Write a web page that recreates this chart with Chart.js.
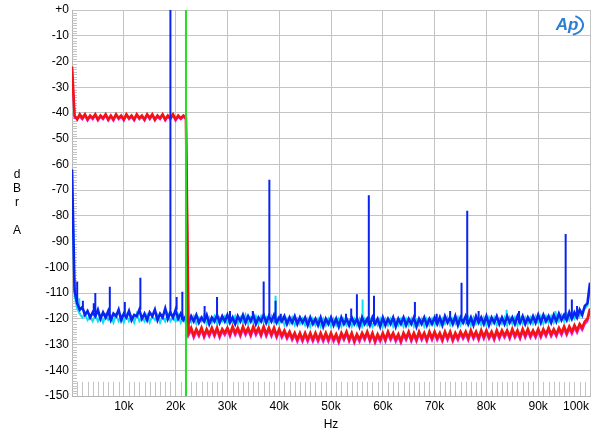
<!DOCTYPE html>
<html lang="en">
<head>
  <meta charset="UTF-8">
  <title>Spectrum dBr A vs Hz</title>
  <script src="https://cdn.jsdelivr.net/npm/chart.js"></script>
  <style>
    body { margin: 0; background: #fff; }
    canvas { display: block; }
  </style>
</head>
<body>
  <canvas id="spectrum" width="600" height="443"></canvas>
  <script>
    // frequency bins in kHz (rows of 10k)
    const binK = [
      0, 0.5, 1, 1.5, 2, 2.5, 3, 3.5, 4, 4.5, 5, 5.5, 6, 6.5, 7, 7.5, 8, 8.5, 9, 9.5,
      10, 10.5, 11, 11.5, 12, 12.5, 13, 13.5, 14, 14.5, 15, 15.5, 16, 16.5, 17, 17.5, 18, 18.5, 19, 19.5,
      20, 20.5, 21, 21.5, 22, 22.5, 23, 23.5, 24, 24.5, 25, 25.5, 26, 26.5, 27, 27.5, 28, 28.5, 29, 29.5,
      30, 30.5, 31, 31.5, 32, 32.5, 33, 33.5, 34, 34.5, 35, 35.5, 36, 36.5, 37, 37.5, 38, 38.5, 39, 39.5,
      40, 40.5, 41, 41.5, 42, 42.5, 43, 43.5, 44, 44.5, 45, 45.5, 46, 46.5, 47, 47.5, 48, 48.5, 49, 49.5,
      50, 50.5, 51, 51.5, 52, 52.5, 53, 53.5, 54, 54.5, 55, 55.5, 56, 56.5, 57, 57.5, 58, 58.5, 59, 59.5,
      60, 60.5, 61, 61.5, 62, 62.5, 63, 63.5, 64, 64.5, 65, 65.5, 66, 66.5, 67, 67.5, 68, 68.5, 69, 69.5,
      70, 70.5, 71, 71.5, 72, 72.5, 73, 73.5, 74, 74.5, 75, 75.5, 76, 76.5, 77, 77.5, 78, 78.5, 79, 79.5,
      80, 80.5, 81, 81.5, 82, 82.5, 83, 83.5, 84, 84.5, 85, 85.5, 86, 86.5, 87, 87.5, 88, 88.5, 89, 89.5,
      90, 90.5, 91, 91.5, 92, 92.5, 93, 93.5, 94, 94.5, 95, 95.5, 96, 96.5, 97, 97.5, 98, 98.5, 99, 99.5,
      100
    ];

    const blueDb = [
      -62, -109, -114, -116.5, -115.5, -118.5, -117, -119.5, -117.5, -119, -116.5, -120, -117.5, -119.5, -117, -120.5, -118, -119, -116.5, -120.5,
      -118, -119.5, -117, -120.5, -118.5, -119, -116.5, -120, -118, -120.5, -117.5, -119, -116.5, -120.5, -118, -119.5, -116, -120, -117.5, -119.5,
      -116.5, -120, -118, -120.5, -119, -121.5, -119, -121, -118.5, -121.5, -119.5, -121, -118.5, -122, -119.5, -121, -118.5, -121.5, -119, -121,
      -118.5, -121.5, -119.5, -122, -119, -121, -118.5, -121.5, -119, -121, -118.5, -122, -119.5, -121, -118.5, -121.5, -119, -121, -118.5, -121.5,
      -119.5, -121, -119, -122, -119.5, -121.5, -119, -122, -119.5, -121.5, -119.5, -122.5, -119.5, -122, -120, -122.5, -119.5, -123, -120, -122,
      -119.5, -122.5, -120, -123, -119.5, -122, -120, -122.5, -119.5, -122, -120, -123, -119.5, -122, -120, -122.5, -119.5, -122, -120, -123,
      -119.5, -122.5, -120, -122, -119.5, -123, -120, -122, -119.5, -122.5, -120, -122, -119.5, -123, -120, -122, -119.5, -122.5, -120, -122,
      -119.5, -122, -119.5, -122.5, -119, -121.5, -119.5, -122, -119, -122.5, -119.5, -121.5, -119, -122, -119.5, -122.5, -119, -121.5, -119.5, -122,
      -119, -122.5, -119.5, -121.5, -119, -122, -119.5, -122, -119, -121.5, -119.5, -122, -119, -121.5, -119, -122, -119.5, -121.5, -119, -121.5,
      -118.5, -121.5, -118.5, -121, -119, -121.5, -118.5, -121, -118, -120.5, -118.5, -120.5, -117.5, -120, -117.5, -119.5, -116.5, -118.5, -115, -114,
      -106
    ];

    const cyanDb = [
      -64, -111, -116, -118, -119.5, -118, -120.5, -119, -121, -118.5, -121, -119, -121.5, -118.5, -120.5, -119, -121.5, -118.5, -121, -119,
      -121.5, -118.5, -121, -119, -121.5, -118, -121, -119.5, -121, -118.5, -121.5, -119, -120.5, -118.5, -121.5, -119, -121, -118, -121, -119.5,
      -121, -118.5, -121.5, -119, -122, -119.5, -121.5, -119, -122, -119.5, -121, -118.5, -122, -119.5, -121.5, -119, -122, -119.5, -121, -119,
      -122, -119.5, -121.5, -119, -122, -119.5, -121.5, -118.5, -122, -119.5, -121.5, -119, -122, -119, -121.5, -119.5, -122, -119, -121.5, -119.5,
      -122, -119.5, -122.5, -120, -122, -119.5, -122.5, -120, -122, -120, -122.5, -120, -123, -120, -122.5, -120, -123, -120, -122.5, -120,
      -123, -120, -122.5, -120, -123, -120, -122.5, -120.5, -123, -120, -122.5, -120, -123, -120, -122.5, -120, -123, -120.5, -122.5, -120,
      -123, -120, -122.5, -120, -123, -120.5, -122.5, -120, -123, -120, -122.5, -120, -123, -120.5, -122.5, -120, -123, -120, -122.5, -120,
      -122.5, -119.5, -122.5, -120, -122, -119.5, -122.5, -120, -122, -119.5, -122.5, -120, -122, -119.5, -122.5, -119.5, -122, -120, -122.5, -119.5,
      -122.5, -119.5, -122, -119.5, -122.5, -120, -122, -119.5, -122.5, -119.5, -122, -119.5, -122.5, -119.5, -122, -119.5, -122, -119.5, -122, -119,
      -121.5, -119, -122, -119, -121.5, -119, -121.5, -118.5, -121, -118.5, -121, -118, -120.5, -118, -120, -117.5, -119, -117, -116, -115,
      -108
    ];

    const redDb = [
      -22, -41, -42.5, -40.5, -42, -40.5, -42.5, -41, -42, -40.5, -42.5, -41, -42, -40.5, -42.5, -41, -42.5, -40.5, -42, -41,
      -42.5, -40.5, -42, -41, -42.5, -40.5, -42, -41, -42.5, -40.5, -42, -40.5, -42.5, -41, -42, -40.5, -42.5, -41, -42, -40.5,
      -42.5, -41, -42, -41, -42, -125.5, -123.5, -126.5, -124, -126, -123.5, -126.5, -124, -126, -123.5, -126, -123.5, -126.5, -124, -125.5,
      -123.5, -126, -123, -125.5, -123.5, -126, -123, -125.5, -123.5, -126, -123, -125.5, -123.5, -126, -123, -126, -123.5, -126, -123.5, -126.5,
      -124, -126.5, -124.5, -127, -125, -127.5, -125.5, -128, -125.5, -128, -125.5, -128, -125.5, -128, -125.5, -128, -125.5, -128, -125.5, -128,
      -125.5, -128, -126, -128.5, -125.5, -127.5, -125, -128, -125.5, -128.5, -126, -128, -125.5, -127.5, -125, -128, -125.5, -128.5, -126, -128,
      -125.5, -128, -125, -127.5, -125.5, -128, -126, -128.5, -125.5, -127.5, -125, -128, -125.5, -128, -125, -127.5, -125.5, -128, -125, -127.5,
      -125, -127.5, -125.5, -128, -125, -127.5, -125, -128, -125.5, -127.5, -125, -127, -125, -127.5, -124.5, -127, -125, -127.5, -124.5, -127,
      -124.5, -127, -125, -127.5, -124.5, -127, -124.5, -126.5, -124.5, -127, -124, -126.5, -124.5, -127, -124, -126.5, -124, -126.5, -124.5, -126.5,
      -124, -126.5, -124, -126, -123.5, -126, -124, -126, -123.5, -125.5, -123, -125.5, -123, -125, -122.5, -124.5, -122, -123.5, -121, -120,
      -116
    ];

    const magentaDb = [
      -23, -42, -42, -41.5, -42.5, -41, -43, -41.5, -42.5, -41, -43, -41.5, -42.5, -41, -43, -41.5, -43, -41, -42.5, -41.5,
      -43, -41, -42.5, -41.5, -43, -41, -42.5, -41.5, -43, -41, -42.5, -41, -43, -41.5, -42.5, -41, -43, -41.5, -42.5, -41,
      -43, -41.5, -42.5, -41.5, -42.5, -126.5, -124.5, -127.5, -125, -127, -124.5, -127.5, -125, -127, -124.5, -127, -124.5, -127.5, -125, -126.5,
      -124.5, -127, -124, -126.5, -124.5, -127, -124, -126.5, -124.5, -127, -124, -126.5, -124.5, -127, -124, -127, -124.5, -127, -124.5, -127.5,
      -125, -127.5, -125.5, -128, -126, -128.5, -126.5, -129, -126.5, -129, -126.5, -129, -126.5, -129, -126.5, -129, -126.5, -129, -126.5, -129,
      -126.5, -129, -127, -129.5, -126.5, -128.5, -126, -129, -126.5, -129.5, -127, -129, -126.5, -128.5, -126, -129, -126.5, -129.5, -127, -129,
      -126.5, -129, -126, -128.5, -126.5, -129, -127, -129.5, -126.5, -128.5, -126, -129, -126.5, -129, -126, -128.5, -126.5, -129, -126, -128.5,
      -126, -128.5, -126.5, -129, -126, -128.5, -126, -129, -126.5, -128.5, -126, -128, -126, -128.5, -125.5, -128, -126, -128.5, -125.5, -128,
      -125.5, -128, -126, -128.5, -125.5, -128, -125.5, -127.5, -125.5, -128, -125, -127.5, -125.5, -128, -125, -127.5, -125, -127.5, -125.5, -127.5,
      -125, -127.5, -125, -127, -124.5, -127, -125, -127, -124.5, -126.5, -124, -126.5, -124, -126, -123.5, -125.5, -123, -124.5, -122, -121,
      -117
    ];

    // discrete tones (kHz, peak dBr)
    const blueSpikeK  = [1.0, 2.1, 4.2, 4.5, 7.3, 10.2, 13.2, 19.0, 20.2, 21.3, 25.6, 28.0, 30.5, 34.9, 37.0, 38.1, 39.3, 40.3, 52.9, 53.9, 55.0, 57.3, 58.3, 66.2, 70.4, 73.0, 75.2, 76.3, 78.5, 86.3, 95.3, 96.5, 97.5];
    const blueSpikeDb = [-105.5, -113, -114, -110, -107.5, -113.5, -104, 0, -111.5, -109.5, -115, -111.5, -117, -117, -105.5, -66, -113, -118, -118, -116, -110.5, -72, -111, -113.5, -118, -117, -106, -78, -117, -117, -87, -112.5, -115];
    const cyanSpikeK  = [1.4, 39.3, 56.1, 83.9, 93.3];
    const cyanSpikeDb = [-112, -111, -112.5, -116.5, -117];

    const markerK = 22; // green marker

    const xTickValues = [10, 20, 30, 40, 50, 60, 70, 80, 90, 100];
    const xTickLabels = ['10k', '20k', '30k', '40k', '50k', '60k', '70k', '80k', '90k', '100k'];
    const yTickValues = [0, -10, -20, -30, -40, -50, -60, -70, -80, -90, -100, -110, -120, -130, -140, -150];
    const yTickLabels = ['+0', '-10', '-20', '-30', '-40', '-50', '-60', '-70', '-80', '-90', '-100', '-110', '-120', '-130', '-140', '-150'];

    const FONT = '"Liberation Sans", Arial, sans-serif';

    function trace(values) {
      return binK.map((k, i) => ({ x: k, y: values[i] }));
    }

    function nearestBin(k) {
      let best = 0;
      binK.forEach((b, i) => { if (Math.abs(b - k) < Math.abs(binK[best] - k)) best = i; });
      return best;
    }

    function spikes(ks, dbs, floor) {
      const out = [];
      ks.forEach((k, i) => {
        out.push({ x: k, y: floor[nearestBin(k)] });
        out.push({ x: k, y: dbs[i] });
        out.push({ x: k, y: null });
      });
      return out;
    }

    const decor = {
      id: 'decor',
      beforeDatasetsDraw(chart) {
        const { ctx, chartArea: a, scales: { x, y } } = chart;
        ctx.save();
        ctx.strokeStyle = '#c4c4c4';
        ctx.lineWidth = 1;
        ctx.beginPath();
        for (let v = -149; v < 0; v++) {
          if (v % 10 === 0) continue;
          const py = Math.round(y.getPixelForValue(v)) + 0.5;
          ctx.moveTo(a.left, py);
          ctx.lineTo(a.left + 5, py);
        }
        for (let k = 1; k < 100; k++) {
          if (k % 10 === 0) continue;
          const px = Math.round(x.getPixelForValue(k)) + 0.5;
          ctx.moveTo(px, y.getPixelForValue(-150));
          ctx.lineTo(px, y.getPixelForValue(-144.5));
        }
        ctx.stroke();
        ctx.restore();
      },
      afterDraw(chart) {
        const { ctx, chartArea: a, scales: { x, y } } = chart;
        ctx.save();
        ctx.fillStyle = '#000';
        ctx.font = '12px ' + FONT;
        ctx.textAlign = 'right';
        ctx.textBaseline = 'middle';
        yTickValues.forEach((v, i) => ctx.fillText(yTickLabels[i], a.left - 3, y.getPixelForValue(v)));

        xTickValues.forEach((v, i) => {
          const px = x.getPixelForValue(v);
          const w = ctx.measureText(xTickLabels[i]).width;
          if (px + w / 2 > a.right) {
            ctx.textAlign = 'right';
            ctx.fillText(xTickLabels[i], a.right - 1, a.bottom + 11);
          } else {
            ctx.textAlign = 'center';
            ctx.fillText(xTickLabels[i], px, a.bottom + 11);
          }
        });

        ctx.textAlign = 'center';
        ctx.fillText('Hz', (a.left + a.right) / 2, a.bottom + 29);

        // vertical unit label
        ctx.fillText('d', 17, 175);
        ctx.fillText('B', 17, 189);
        ctx.fillText('r', 17, 203);
        ctx.fillText('A', 17, 231);

        // AP logo
        ctx.fillStyle = '#2a7fd4';
        ctx.strokeStyle = '#2a7fd4';
        ctx.font = 'italic bold 17px ' + FONT;
        ctx.fillText('Ap', 567, 25);
        ctx.lineWidth = 2;
        ctx.beginPath();
        ctx.ellipse(569, 25, 14, 10, 0, -1.1, 1.3);
        ctx.stroke();
        ctx.restore();
      }
    };

    new Chart(document.getElementById('spectrum'), {
      type: 'line',
      data: {
        datasets: [
          { label: 'marker', data: [{ x: markerK, y: 0 }, { x: markerK, y: -150 }], borderColor: '#22dd22', borderWidth: 2 },
          { label: 'blue tones', data: spikes(blueSpikeK, blueSpikeDb, blueDb), borderColor: '#0a24f0', borderWidth: 2 },
          { label: 'red', data: trace(redDb), borderColor: '#f21414', borderWidth: 2.6 },
          { label: 'magenta', data: trace(magentaDb), borderColor: '#f020e8', borderWidth: 2 },
          { label: 'blue', data: trace(blueDb), borderColor: '#0a24f0', borderWidth: 2.6 },
          { label: 'cyan tones', data: spikes(cyanSpikeK, cyanSpikeDb, cyanDb), borderColor: '#10e0f0', borderWidth: 2 },
          { label: 'cyan', data: trace(cyanDb), borderColor: '#10e0f0', borderWidth: 2 }
        ]
      },
      options: {
        responsive: false,
        animation: false,
        layout: { padding: { left: 72, right: 10, top: 10, bottom: 47 } },
        elements: { point: { radius: 0 }, line: { tension: 0 } },
        plugins: { legend: { display: false }, tooltip: { enabled: false } },
        scales: {
          x: {
            type: 'linear', min: 0, max: 100,
            ticks: { display: false, stepSize: 10 },
            grid: { color: '#c4c4c4', drawTicks: false },
            border: { color: '#b4b4b4' }
          },
          y: {
            type: 'linear', min: -150, max: 0,
            ticks: { display: false, stepSize: 10 },
            grid: { color: '#c4c4c4', drawTicks: false },
            border: { color: '#b4b4b4' }
          }
        }
      },
      plugins: [decor]
    });
  </script>
</body>
</html>
